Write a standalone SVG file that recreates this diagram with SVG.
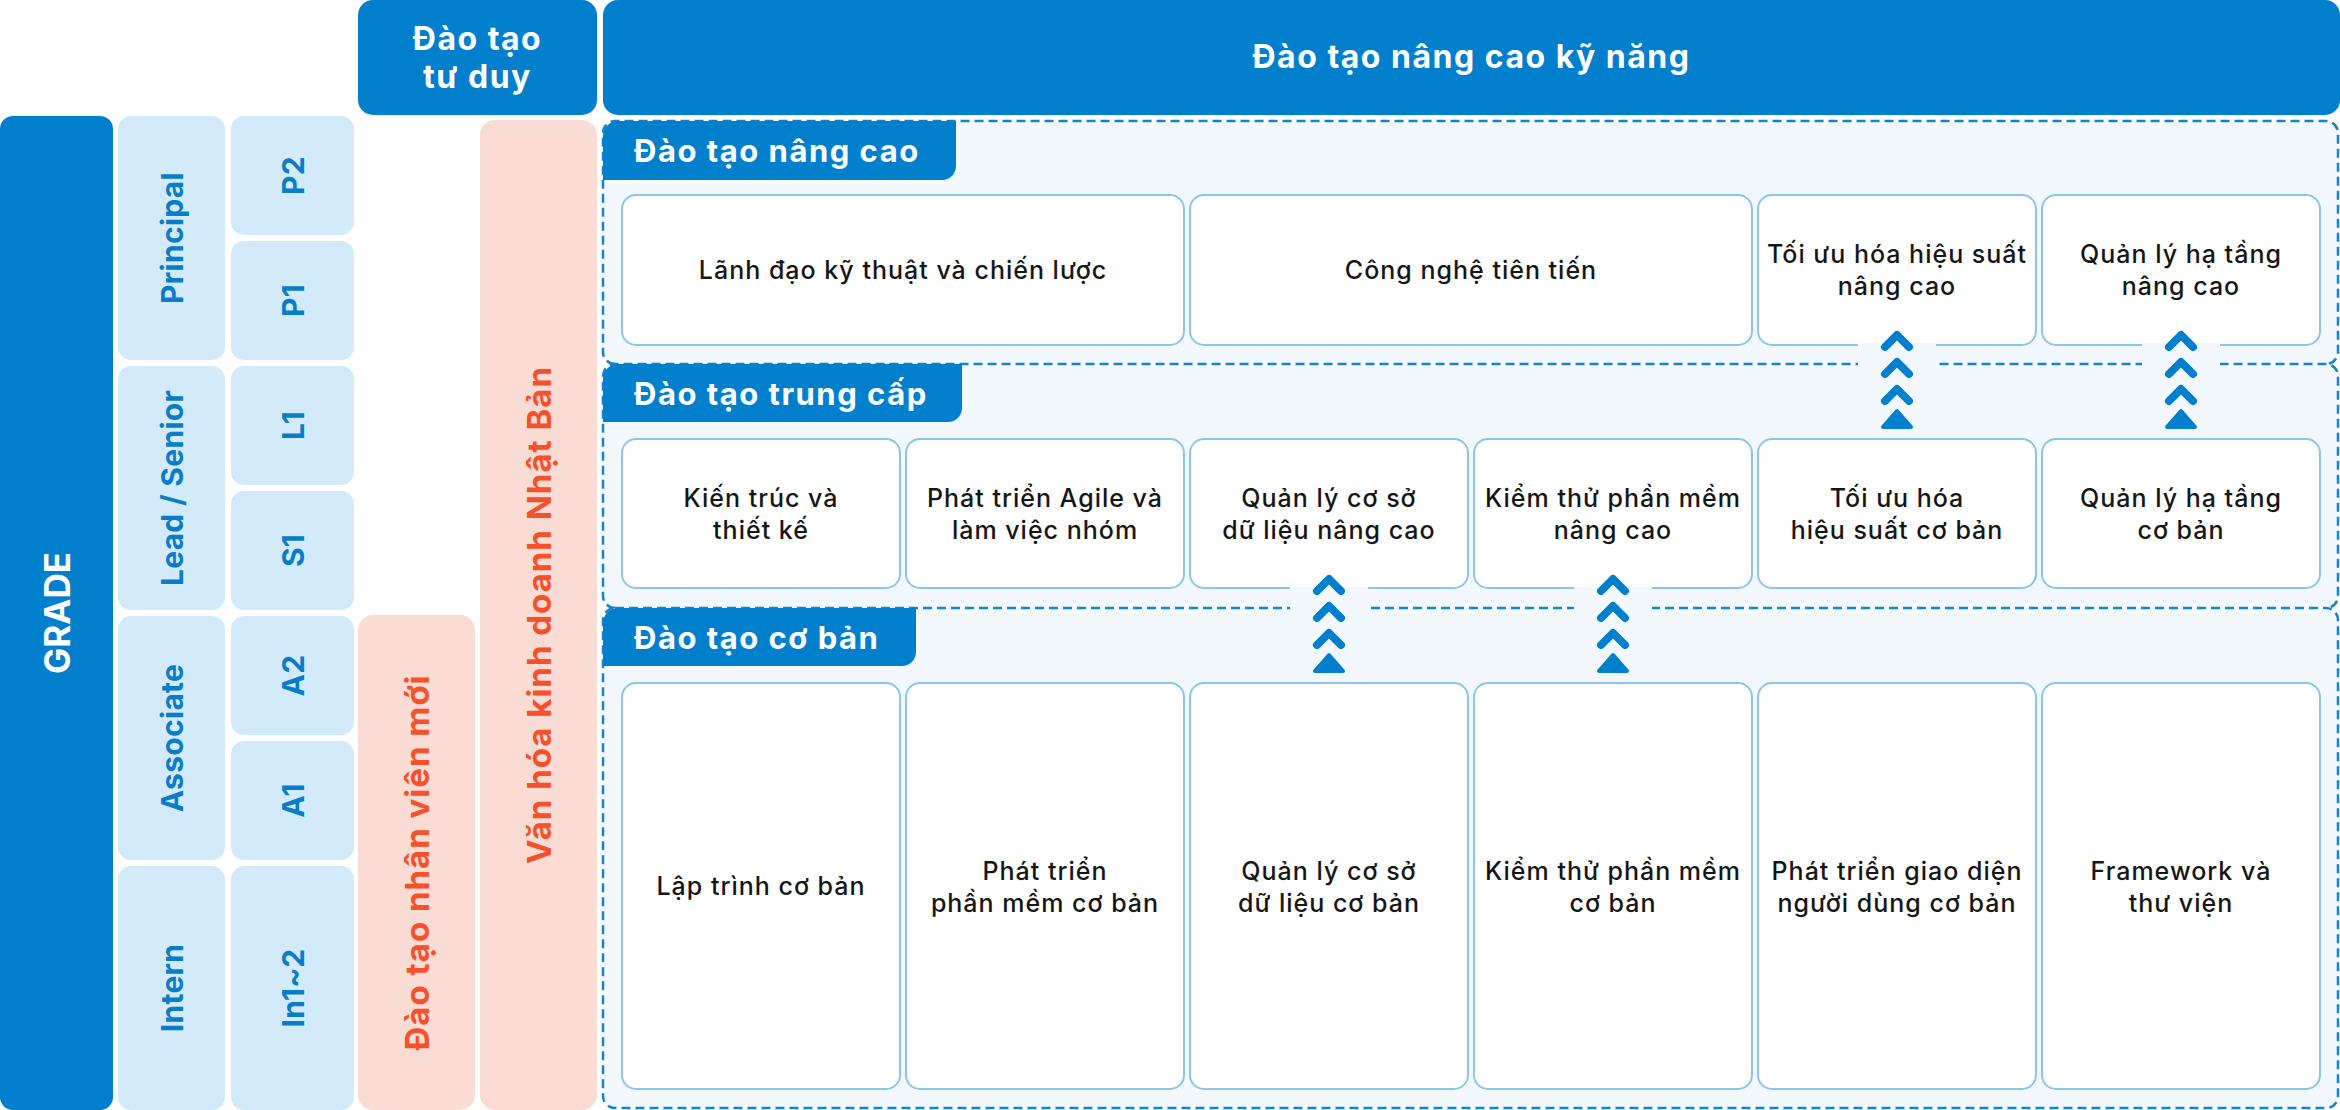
<svg xmlns="http://www.w3.org/2000/svg" width="2340" height="1110" viewBox="0 0 2340 1110">
<defs>
<style>
.hdr{fill:#0080CC}
.hdrt{fill:#fff;font-family:Inter,"Noto Sans",sans-serif;font-weight:700;font-size:32px;letter-spacing:1.5px;text-anchor:middle}
.grade{fill:#D3EAFB}
.gt{fill:#0A7DC9;font-family:Inter,"Noto Sans",sans-serif;font-weight:700;font-size:30px;letter-spacing:0.3px;text-anchor:middle}
.pink{fill:#FADCD4}
.pt{fill:#F4512C;font-family:Inter,"Noto Sans",sans-serif;font-weight:700;font-size:33px;letter-spacing:1px;text-anchor:middle}
.secbg{fill:#F2F8FD}
.dash{fill:none;stroke:#1484CF;stroke-width:2.5;stroke-dasharray:9 5}
.tab{fill:#0080CC}
.tabt{fill:#fff;font-family:Inter,"Noto Sans",sans-serif;font-weight:700;font-size:31px;letter-spacing:1.5px}
.card{fill:#fff;stroke:#8CC6EC;stroke-width:2}
.ct{fill:#161616;font-family:Inter,"Noto Sans",sans-serif;font-weight:500;font-size:25px;letter-spacing:1px;text-anchor:middle}
.gap{fill:#F2F8FD}
.chev{fill:none;stroke:#0080CC;stroke-width:8;stroke-linecap:round;stroke-linejoin:round}
.tri{fill:#0080CC;stroke:#0080CC;stroke-width:4;stroke-linejoin:round}
</style>
<g id="arrowUp">
<path class="chev" d="M-12,12 L0,0 L12,12"/>
<path class="chev" d="M-12,39 L0,27 L12,39"/>
<path class="chev" d="M-12,66 L0,54 L12,66"/>
<path class="tri" d="M0,76 L-14,92 L14,92 Z"/>
</g>
</defs>

<!-- top headers -->
<g id="hdr-tuduy">
<rect class="hdr" x="358" y="0" width="239" height="115" rx="15"/>
<text class="hdrt" x="477.5" y="50">Đào tạo</text>
<text class="hdrt" x="477.5" y="88">tư duy</text>
</g>
<g id="hdr-kynang">
<rect class="hdr" x="603" y="0" width="1737" height="115" rx="15"/>
<text class="hdrt" x="1471.5" y="68">Đào tạo nâng cao kỹ năng</text>
</g>

<!-- grade column -->
<g id="grade">
<rect class="hdr" x="0" y="116" width="113" height="994" rx="13"/>
<text transform="translate(57,613) rotate(-90)" y="13" fill="#fff" font-family="Inter,'Noto Sans',sans-serif" font-weight="700" font-size="35" text-anchor="middle">GRADE</text>
</g>
<g id="principal">
<rect class="grade" x="118" y="116" width="107" height="244" rx="13"/>
<text class="gt" transform="translate(171.5,238) rotate(-90)" y="11">Principal</text>
</g>
<g id="p2">
<rect class="grade" x="231" y="116" width="123" height="119" rx="13"/>
<text class="gt" transform="translate(292.5,175.5) rotate(-90)" y="11">P2</text>
</g>
<g id="p1">
<rect class="grade" x="231" y="241" width="123" height="119" rx="13"/>
<text class="gt" transform="translate(292.5,300.5) rotate(-90)" y="11">P1</text>
</g>
<g id="lead">
<rect class="grade" x="118" y="366" width="107" height="244" rx="13"/>
<text class="gt" transform="translate(171.5,488) rotate(-90)" y="11">Lead / Senior</text>
</g>
<g id="l1">
<rect class="grade" x="231" y="366" width="123" height="119" rx="13"/>
<text class="gt" transform="translate(292.5,425.5) rotate(-90)" y="11">L1</text>
</g>
<g id="s1">
<rect class="grade" x="231" y="491" width="123" height="119" rx="13"/>
<text class="gt" transform="translate(292.5,550.5) rotate(-90)" y="11">S1</text>
</g>
<g id="associate">
<rect class="grade" x="118" y="616" width="107" height="244" rx="13"/>
<text class="gt" transform="translate(171.5,738) rotate(-90)" y="11">Associate</text>
</g>
<g id="a2">
<rect class="grade" x="231" y="616" width="123" height="119" rx="13"/>
<text class="gt" transform="translate(292.5,675.5) rotate(-90)" y="11">A2</text>
</g>
<g id="a1">
<rect class="grade" x="231" y="741" width="123" height="119" rx="13"/>
<text class="gt" transform="translate(292.5,800.5) rotate(-90)" y="11">A1</text>
</g>
<g id="intern">
<rect class="grade" x="118" y="866" width="107" height="244" rx="13"/>
<text class="gt" transform="translate(171.5,988) rotate(-90)" y="11">Intern</text>
</g>
<g id="in12">
<rect class="grade" x="231" y="866" width="123" height="244" rx="13"/>
<text class="gt" transform="translate(292.5,988) rotate(-90)" y="11">In1~2</text>
</g>

<!-- pink columns -->
<g id="nhanvienmoi">
<rect class="pink" x="358" y="615" width="117" height="495" rx="15"/>
<text class="pt" transform="translate(416.5,862.5) rotate(-90)" y="12">Đào tạo nhân viên mới</text>
</g>
<g id="vanhoa">
<rect class="pink" x="480" y="120" width="117" height="990" rx="15"/>
<text class="pt" transform="translate(538.5,615) rotate(-90)" y="12">Văn hóa kinh doanh Nhật Bản</text>
</g>

<!-- sections -->
<g id="sec-nangcao">
<rect class="secbg" x="603" y="121" width="1735" height="243" rx="12"/>
<path class="dash" d="M615,364 A12,12 0 0 1 603,352 V133 A12,12 0 0 1 615,121 H2326 A12,12 0 0 1 2338,133 V352 A12,12 0 0 1 2326,364"/>
</g>
<g id="sec-trungcap">
<rect class="secbg" x="603" y="364" width="1735" height="244" rx="12"/>
<path class="dash" d="M615,608 A12,12 0 0 1 603,596 V376 A12,12 0 0 1 615,364 H2326 A12,12 0 0 1 2338,376 V596 A12,12 0 0 1 2326,608"/>
</g>
<g id="sec-coban">
<rect class="secbg" x="603" y="608" width="1735" height="500" rx="12"/>
<rect class="dash" x="603" y="608" width="1735" height="500" rx="12"/>
</g>

<g id="tab-nangcao">
<path class="tab" d="M603,136 A15,15 0 0 1 618,121 H956 V166 A14,14 0 0 1 942,180 H603 Z"/>
<text class="tabt" x="634" y="162">Đào tạo nâng cao</text>
</g>
<g id="tab-trungcap">
<path class="tab" d="M603,379 A15,15 0 0 1 618,364 H962 V408 A14,14 0 0 1 948,422 H603 Z"/>
<text class="tabt" x="634" y="405">Đào tạo trung cấp</text>
</g>
<g id="tab-coban">
<path class="tab" d="M603,623 A15,15 0 0 1 618,608 H916 V652 A14,14 0 0 1 902,666 H603 Z"/>
<text class="tabt" x="634" y="649">Đào tạo cơ bản</text>
</g>

<!-- row 1 -->
<g id="c-lanhdao">
<rect class="card" x="622" y="195" width="562" height="150" rx="14"/>
<text class="ct" x="903" y="279">Lãnh đạo kỹ thuật và chiến lược</text>
</g>
<g id="c-congnghe">
<rect class="card" x="1190" y="195" width="562" height="150" rx="14"/>
<text class="ct" x="1471" y="279">Công nghệ tiên tiến</text>
</g>
<g id="c-toiuu-nc">
<rect class="card" x="1758" y="195" width="278" height="150" rx="14"/>
<text class="ct" x="1897" y="263">Tối ưu hóa hiệu suất</text>
<text class="ct" x="1897" y="295">nâng cao</text>
</g>
<g id="c-hatang-nc">
<rect class="card" x="2042" y="195" width="278" height="150" rx="14"/>
<text class="ct" x="2181" y="263">Quản lý hạ tầng</text>
<text class="ct" x="2181" y="295">nâng cao</text>
</g>

<!-- row 2 -->
<g id="c-kientruc">
<rect class="card" x="622" y="439" width="278" height="149" rx="14"/>
<text class="ct" x="761" y="507">Kiến trúc và</text>
<text class="ct" x="761" y="539">thiết kế</text>
</g>
<g id="c-agile">
<rect class="card" x="906" y="439" width="278" height="149" rx="14"/>
<text class="ct" x="1045" y="507">Phát triển Agile và</text>
<text class="ct" x="1045" y="539">làm việc nhóm</text>
</g>
<g id="c-csdl-nc">
<rect class="card" x="1190" y="439" width="278" height="149" rx="14"/>
<text class="ct" x="1329" y="507">Quản lý cơ sở</text>
<text class="ct" x="1329" y="539">dữ liệu nâng cao</text>
</g>
<g id="c-kiemthu-nc">
<rect class="card" x="1474" y="439" width="278" height="149" rx="14"/>
<text class="ct" x="1613" y="507">Kiểm thử phần mềm</text>
<text class="ct" x="1613" y="539">nâng cao</text>
</g>
<g id="c-toiuu-cb">
<rect class="card" x="1758" y="439" width="278" height="149" rx="14"/>
<text class="ct" x="1897" y="507">Tối ưu hóa</text>
<text class="ct" x="1897" y="539">hiệu suất cơ bản</text>
</g>
<g id="c-hatang-cb">
<rect class="card" x="2042" y="439" width="278" height="149" rx="14"/>
<text class="ct" x="2181" y="507">Quản lý hạ tầng</text>
<text class="ct" x="2181" y="539">cơ bản</text>
</g>

<!-- row 3 -->
<g id="c-laptrinh">
<rect class="card" x="622" y="683" width="278" height="406" rx="14"/>
<text class="ct" x="761" y="895">Lập trình cơ bản</text>
</g>
<g id="c-phanmem">
<rect class="card" x="906" y="683" width="278" height="406" rx="14"/>
<text class="ct" x="1045" y="880">Phát triển</text>
<text class="ct" x="1045" y="912">phần mềm cơ bản</text>
</g>
<g id="c-csdl-cb">
<rect class="card" x="1190" y="683" width="278" height="406" rx="14"/>
<text class="ct" x="1329" y="880">Quản lý cơ sở</text>
<text class="ct" x="1329" y="912">dữ liệu cơ bản</text>
</g>
<g id="c-kiemthu-cb">
<rect class="card" x="1474" y="683" width="278" height="406" rx="14"/>
<text class="ct" x="1613" y="880">Kiểm thử phần mềm</text>
<text class="ct" x="1613" y="912">cơ bản</text>
</g>
<g id="c-giaodien">
<rect class="card" x="1758" y="683" width="278" height="406" rx="14"/>
<text class="ct" x="1897" y="880">Phát triển giao diện</text>
<text class="ct" x="1897" y="912">người dùng cơ bản</text>
</g>
<g id="c-framework">
<rect class="card" x="2042" y="683" width="278" height="406" rx="14"/>
<text class="ct" x="2181" y="880">Framework và</text>
<text class="ct" x="2181" y="912">thư viện</text>
</g>

<!-- connectors -->
<g id="connectors">
<rect class="gap" x="1858" y="343" width="78" height="93"/>
<rect class="gap" x="2142" y="343" width="78" height="93"/>
<rect class="gap" x="1290" y="587" width="78" height="93"/>
<rect class="gap" x="1574" y="587" width="78" height="93"/>
<use href="#arrowUp" x="1897" y="335"/>
<use href="#arrowUp" x="2181" y="335"/>
<use href="#arrowUp" x="1329" y="579"/>
<use href="#arrowUp" x="1613" y="579"/>
</g>
</svg>
